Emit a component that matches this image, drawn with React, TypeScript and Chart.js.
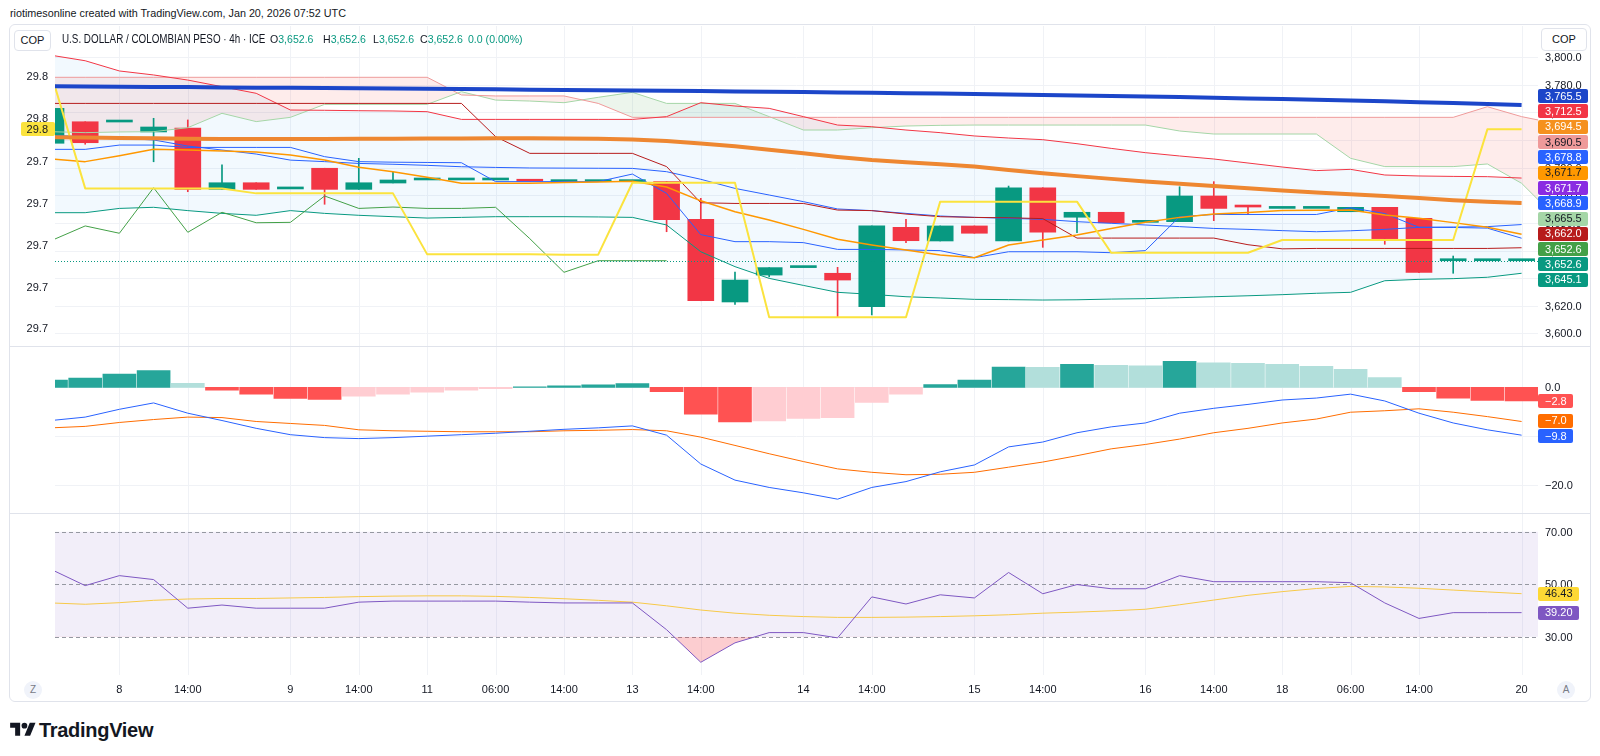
import React, { useEffect, useRef } from "react";
import { Chart, registerables } from "chart.js";

Chart.register(...registerables);

// ---------------- time axis ----------------
const timeLabelIndex = [2, 4, 7, 9, 11, 13, 15, 17, 19, 22, 24, 27, 29, 32, 34, 36, 38, 40, 43];
const timeLabelText = ["8", "14:00", "9", "14:00", "11", "06:00", "14:00", "13", "14:00", "14", "14:00", "15", "14:00", "16", "14:00", "18", "06:00", "14:00", "20"];

// ---------------- candles (USD/COP 4h) ----------------
const opens = [3737.7, 3753.3, 3753.1, 3745.9, 3748.8, 3704.3, 3709.1, 3704.6, 3719.6, 3704.3,
  3708.9, 3711.1, 3711.1, 3711.1, 3710.6, 3709.9, 3709.9, 3709.9, 3709.9, 3682.6,
  3622.7, 3642.2, 3647.6, 3643.5, 3619.3, 3676.8, 3666.9, 3677.8, 3666.9, 3705.5,
  3684.1, 3687.7, 3680.4, 3680.9, 3699.5, 3691.7, 3690.5, 3690.5, 3688.1, 3691.3,
  3683.3, 3652.6, 3652.6, 3652.6];
const highs = [3764.0, 3753.3, 3753.1, 3755.8, 3754.6, 3722.0, 3709.1, 3704.6, 3719.6, 3726.8,
  3716.7, 3711.1, 3711.1, 3711.1, 3710.6, 3709.9, 3709.9, 3709.9, 3709.9, 3697.8,
  3644.4, 3647.6, 3647.6, 3647.8, 3677.8, 3682.6, 3677.8, 3677.8, 3706.7, 3705.5,
  3687.7, 3687.7, 3680.4, 3706.2, 3709.9, 3691.7, 3690.5, 3690.5, 3691.3, 3691.3,
  3683.3, 3656.0, 3652.6, 3652.6];
const lows = [3737.7, 3737.0, 3753.1, 3724.3, 3702.6, 3704.3, 3704.3, 3704.6, 3693.5, 3704.3,
  3708.9, 3711.1, 3711.1, 3711.1, 3710.2, 3709.9, 3709.9, 3709.9, 3673.6, 3623.6,
  3621.0, 3640.9, 3647.6, 3611.6, 3613.3, 3665.7, 3666.9, 3672.5, 3666.9, 3662.3,
  3672.9, 3680.1, 3680.4, 3680.9, 3681.6, 3686.2, 3690.5, 3690.5, 3688.1, 3664.5,
  3644.0, 3643.5, 3652.6, 3652.6];
const closes = [3763.0, 3738.1, 3753.1, 3749.5, 3704.3, 3709.1, 3704.3, 3704.6, 3704.3, 3709.1,
  3711.1, 3711.1, 3711.1, 3711.1, 3710.2, 3709.9, 3709.9, 3709.9, 3682.3, 3623.6,
  3638.6, 3647.6, 3647.6, 3638.6, 3677.8, 3667.1, 3677.8, 3672.5, 3705.5, 3673.2,
  3687.7, 3680.1, 3680.4, 3699.5, 3690.5, 3691.5, 3690.5, 3690.5, 3691.3, 3668.6,
  3644.2, 3652.6, 3652.6, 3652.6];

// ---------------- overlays on price pane ----------------
const maLong = [3779.0, 3778.9, 3778.7, 3778.5, 3778.4, 3778.2, 3778.0, 3777.9, 3777.7, 3777.5,
  3777.4, 3777.2, 3777.0, 3776.8, 3776.5, 3776.3, 3776.1, 3775.9, 3775.7, 3775.5,
  3775.3, 3775.0, 3774.8, 3774.5, 3774.3, 3774.0, 3773.7, 3773.4, 3773.1, 3772.7,
  3772.4, 3772.0, 3771.6, 3771.2, 3770.7, 3770.2, 3769.7, 3769.2, 3768.7, 3768.1,
  3767.5, 3766.9, 3766.2, 3765.5];
const maMid = [3742.0, 3741.8, 3741.5, 3741.3, 3741.0, 3740.8, 3740.8, 3740.8, 3740.8, 3740.9,
  3741.0, 3741.1, 3741.2, 3741.3, 3741.3, 3741.2, 3741.0, 3740.5, 3739.4, 3737.6,
  3735.5, 3733.0, 3730.5, 3727.8, 3725.6, 3724.0, 3722.5, 3720.8, 3718.4, 3716.0,
  3713.9, 3711.9, 3710.0, 3708.3, 3706.7, 3705.1, 3703.5, 3702.0, 3700.8, 3699.5,
  3698.0, 3696.5, 3695.3, 3694.5];
const maFast = [3726.3, 3724.4, 3728.7, 3733.3, 3732.8, 3732.1, 3731.4, 3729.2, 3725.6, 3720.3,
  3717.1, 3713.1, 3708.7, 3708.7, 3708.7, 3709.2, 3709.6, 3710.2, 3706.0, 3696.0,
  3688.1, 3682.1, 3675.3, 3668.1, 3664.0, 3660.4, 3656.7, 3654.8, 3664.0, 3667.6,
  3671.2, 3676.0, 3680.4, 3684.0, 3686.4, 3687.6, 3688.9, 3689.2, 3689.4, 3685.7,
  3683.3, 3680.2, 3676.8, 3671.7];
const bbUpper = [3801.5, 3797.5, 3790.1, 3787.2, 3783.5, 3778.7, 3773.9, 3761.8, 3761.6, 3761.3,
  3761.1, 3760.6, 3755.0, 3755.0, 3755.0, 3755.0, 3755.0, 3755.0, 3757.0, 3767.1,
  3764.7, 3763.0, 3757.0, 3750.9, 3749.7, 3747.3, 3745.4, 3743.0, 3741.5, 3740.3,
  3737.4, 3734.0, 3730.9, 3728.5, 3726.3, 3723.4, 3720.5, 3717.9, 3718.8, 3714.7,
  3714.0, 3713.7, 3713.5, 3712.5];
const bbLower = [3687.4, 3687.4, 3690.5, 3691.3, 3688.9, 3686.9, 3685.5, 3688.9, 3686.9, 3685.5,
  3684.5, 3683.5, 3684.0, 3684.5, 3684.5, 3684.5, 3684.3, 3684.0, 3678.5, 3659.1,
  3648.3, 3639.8, 3634.7, 3629.7, 3628.2, 3626.5, 3625.6, 3624.6, 3624.4, 3624.1,
  3624.3, 3624.8, 3625.1, 3625.8, 3626.5, 3627.2, 3628.0, 3629.0, 3629.7, 3638.1,
  3639.1, 3639.6, 3640.6, 3643.5];
const bbBasis = [3743.4, 3742.5, 3741.3, 3740.1, 3735.7, 3732.8, 3729.9, 3725.5, 3724.4, 3723.1,
  3722.5, 3721.7, 3720.7, 3720.2, 3719.8, 3719.7, 3719.6, 3719.5, 3717.1, 3711.6,
  3705.0, 3700.2, 3695.4, 3690.1, 3688.9, 3686.9, 3685.0, 3684.0, 3683.3, 3682.6,
  3680.9, 3679.7, 3678.5, 3677.3, 3676.0, 3675.3, 3674.4, 3673.6, 3674.3, 3675.3,
  3676.8, 3677.0, 3677.3, 3678.8];
const tenkan = [3733.3, 3733.3, 3736.4, 3736.4, 3734.7, 3734.7, 3734.7, 3734.7, 3728.0, 3724.4,
  3724.0, 3723.8, 3723.6, 3709.9, 3709.9, 3709.9, 3709.9, 3715.4, 3701.4, 3671.5,
  3666.4, 3666.4, 3665.7, 3660.8, 3660.8, 3660.4, 3659.9, 3654.8, 3659.1, 3659.1,
  3659.1, 3658.4, 3659.9, 3684.5, 3686.1, 3686.1, 3686.1, 3686.1, 3691.0, 3686.8,
  3676.8, 3676.7, 3676.2, 3668.9];
const kijun = [3766.6, 3766.6, 3766.6, 3766.6, 3766.6, 3766.6, 3766.6, 3766.6, 3766.6, 3766.6,
  3766.6, 3766.6, 3766.6, 3742.5, 3730.4, 3730.4, 3730.4, 3730.4, 3720.8, 3694.6,
  3694.1, 3694.1, 3694.1, 3689.3, 3688.9, 3686.4, 3684.5, 3684.0, 3683.7, 3683.1,
  3669.0, 3669.0, 3669.0, 3669.0, 3669.0, 3664.2, 3661.2, 3661.5, 3661.5, 3661.5,
  3661.5, 3661.5, 3661.5, 3662.0];
const spanA = [3746.1, 3745.4, 3745.9, 3746.1, 3749.0, 3759.4, 3753.4, 3756.5, 3765.9, 3765.9,
  3765.9, 3765.9, 3775.1, 3769.0, 3768.3, 3767.1, 3771.0, 3774.6, 3766.6, 3766.6,
  3766.6, 3757.0, 3747.3, 3747.3, 3749.0, 3750.2, 3750.7, 3750.9, 3750.9, 3750.9,
  3750.9, 3750.9, 3750.9, 3746.6, 3744.4, 3744.4, 3744.4, 3744.4, 3726.8, 3720.8,
  3720.8, 3720.8, 3722.7, 3708.7, 3684.0];
const spanB = [3785.5, 3785.5, 3785.5, 3785.5, 3785.5, 3785.5, 3785.5, 3785.5, 3785.5, 3785.5,
  3785.5, 3785.5, 3772.7, 3772.0, 3772.0, 3772.0, 3766.6, 3756.5, 3756.5, 3756.5,
  3756.5, 3756.5, 3756.5, 3756.5, 3756.5, 3756.5, 3756.5, 3756.5, 3756.5, 3756.5,
  3756.5, 3756.5, 3756.5, 3756.5, 3756.5, 3756.5, 3756.5, 3756.5, 3756.5, 3756.5,
  3756.5, 3756.5, 3764.2, 3757.0, 3752.0];
const LAGGING_SHIFT = 25;
const yellowLine = [3788.4, 3705.0, 3705.0, 3705.0, 3705.0, 3705.0, 3701.4, 3701.4, 3701.4, 3701.4,
  3701.4, 3657.2, 3657.2, 3657.2, 3657.2, 3657.0, 3657.0, 3709.1, 3709.1, 3709.1,
  3709.1, 3611.6, 3611.6, 3611.6, 3611.6, 3611.6, 3695.4, 3695.4, 3695.4, 3695.4,
  3695.4, 3658.4, 3658.4, 3658.4, 3658.4, 3658.4, 3667.6, 3667.6, 3667.6, 3667.6,
  3667.6, 3667.6, 3747.8, 3747.8];

// ---------------- MACD ----------------
const macdLine = [-6.8, -6.1, -4.5, -3.2, -5.3, -6.8, -8.4, -9.7, -10.3, -10.5,
  -10.3, -10.0, -9.7, -9.4, -9.0, -8.6, -8.3, -7.9, -9.8, -15.7,
  -19.0, -20.5, -21.6, -22.9, -20.5, -19.3, -17.3, -15.9, -12.2, -11.2,
  -9.3, -8.1, -7.3, -5.3, -4.3, -3.5, -2.6, -2.2, -1.4, -2.8,
  -5.3, -7.3, -8.7, -9.8];
const signalLine = [-8.3, -8.0, -7.2, -6.6, -6.1, -6.2, -7.0, -7.4, -7.8, -8.7,
  -8.9, -9.0, -9.1, -9.1, -9.1, -8.9, -8.8, -8.65, -8.9, -10.2,
  -11.9, -13.6, -15.2, -16.7, -17.4, -17.9, -17.8, -17.4, -16.35, -15.3,
  -14.0, -12.6, -11.7, -10.6, -9.3, -8.4, -7.3, -6.5, -5.1, -4.8,
  -4.4, -5.1, -6.0, -7.0];
const histogram = [1.5, 1.9, 2.7, 3.4, 0.8, -0.6, -1.4, -2.3, -2.5, -1.8,
  -1.4, -1.0, -0.6, -0.3, 0.1, 0.3, 0.5, 0.75, -0.9, -5.5,
  -7.1, -6.9, -6.35, -6.2, -3.1, -1.4, 0.55, 1.5, 4.15, 4.1,
  4.7, 4.5, 4.4, 5.3, 5.0, 4.9, 4.7, 4.3, 3.7, 2.0,
  -0.9, -2.2, -2.7, -2.8];

// ---------------- RSI ----------------
const rsiLine = [55.7, 49.5, 53.3, 51.8, 40.9, 42.1, 40.9, 40.9, 40.9, 43.2,
  43.6, 43.6, 43.6, 43.6, 43.2, 42.9, 42.9, 42.9, 32.7, 20.3,
  27.7, 31.6, 31.6, 29.6, 45.2, 42.5, 46.0, 44.8, 54.5, 46.4,
  49.9, 48.3, 48.3, 53.3, 51.0, 51.0, 51.0, 51.0, 50.6, 42.9,
  37.0, 39.2, 39.2, 39.2];
const rsiMa = [42.9, 42.4, 43.0, 43.9, 44.4, 44.6, 44.6, 44.8, 45.0, 45.3,
  45.5, 45.6, 45.6, 45.4, 45.0, 44.5, 43.9, 43.2, 41.8, 40.2,
  39.0, 38.2, 37.7, 37.4, 37.4, 37.5, 37.7, 38.0, 38.4, 39.0,
  39.4, 39.9, 40.5, 42.2, 44.0, 45.8, 47.2, 48.4, 49.2, 49.0,
  48.5, 47.8, 47.1, 46.43];

// ---------------- axis ticks & labels ----------------
const priceTicks = [3800, 3780, 3760, 3740, 3720, 3700, 3680, 3660, 3640, 3620, 3600];
const leftTickValues = [3785.7, 3755.3, 3724.1, 3693.7, 3663.3, 3632.9, 3603.2];
const leftTickLabels = ["29.8", "29.8", "29.7", "29.7", "29.7", "29.7", "29.7"];
const leftBadgeText = "29.8";
const macdTicks = [0, -10, -20];
const rsiLevels = [70, 50, 30];

const mainBadgeValues = [3765.5, 3712.5, 3694.5, 3690.5, 3678.8, 3671.7, 3671.7, 3668.9, 3665.5, 3662.0, 3652.6, 3652.6, 3645.1];
const mainBadgeBg = ["#1c46c9", "#F23645", "#F5911E", "#EF9A9A", "#2962FF", "#FF9800", "#8A2BE2", "#2962FF", "#A5D6A7", "#B71C1C", "#43A047", "#089981", "#089981"];
const mainBadgeFg = ["#fff", "#fff", "#fff", "#131722", "#fff", "#131722", "#fff", "#fff", "#131722", "#fff", "#fff", "#fff", "#fff"];
const macdBadgeValues = [-2.8, -7.0, -9.8];
const macdBadgeBg = ["#FF5252", "#FF6D00", "#2962FF"];
const rsiBadgeValues = [46.43, 39.2];
const rsiBadgeBg = ["#FDD835", "#7E57C2"];
const rsiBadgeFg = ["#131722", "#fff"];

// ---------------- styling ----------------
const FONT_STACK = '"Liberation Sans", Arial, sans-serif';
const AXIS_FONT = `11px ${FONT_STACK}`;
const TEXT = "#131722";
const GRID = "#F0F2F6";
const UP = "#089981";
const DOWN = "#F23645";
const X_MIN = 0.117;
const X_MAX = 43.48;
const PAD_LEFT = 55;
const PAD_RIGHT = 62;
const AXIS_TEXT_X = 1545;
const BADGE_STEP = 15.3;

function fmt(v: number, d: number) {
  const s = Math.abs(v).toLocaleString("en-US", { minimumFractionDigits: d, maximumFractionDigits: d });
  return (v < 0 ? "\u2212" : "") + s;
}

function stackPositions(ideals: number[], step: number, contiguous: boolean): number[] {
  const n = ideals.length;
  const place = (s: number, e: number) => (ideals[s] + ideals[e]) / 2 - ((e - s) * step) / 2;
  if (contiguous) {
    const top = place(0, n - 1);
    return ideals.map((_, i) => top + i * step);
  }
  const groups: number[][] = ideals.map((_, i) => [i, i]);
  let changed = true;
  while (changed) {
    changed = false;
    for (let k = 0; k < groups.length - 1; k++) {
      const [s1, e1] = groups[k];
      const [s2, e2] = groups[k + 1];
      const bottom1 = place(s1, e1) + (e1 - s1) * step;
      if (bottom1 + step > place(s2, e2)) {
        groups.splice(k, 2, [s1, e2]);
        changed = true;
        break;
      }
    }
  }
  const out: number[] = [];
  for (const [s, e] of groups) {
    const top = place(s, e);
    for (let i = s; i <= e; i++) out[i] = top + (i - s) * step;
  }
  return out;
}

function drawBadge(ctx: any, textX: number, yc: number, text: string, bg: string, fg: string, align: "left" | "right" = "left") {
  ctx.font = AXIS_FONT;
  const tw = ctx.measureText(text).width;
  const h = 14;
  const left = align === "left" ? textX - 7 : textX - tw - 6;
  ctx.fillStyle = bg;
  ctx.beginPath();
  ctx.roundRect(Math.round(left), Math.round(yc - h / 2), Math.round(tw + 13), h, 2);
  ctx.fill();
  ctx.fillStyle = fg;
  ctx.textAlign = align;
  ctx.textBaseline = "middle";
  ctx.fillText(text, textX, yc + 0.5);
}

function drawGrid(chart: any, hTicks: number[]) {
  const { ctx, chartArea: a, scales } = chart;
  ctx.save();
  ctx.strokeStyle = GRID;
  ctx.lineWidth = 1;
  ctx.beginPath();
  for (const v of hTicks) {
    const py = Math.round(scales.y.getPixelForValue(v)) + 0.5;
    ctx.moveTo(a.left, py);
    ctx.lineTo(a.right, py);
  }
  for (const i of timeLabelIndex) {
    const px = Math.round(scales.x.getPixelForValue(i)) + 0.5;
    ctx.moveTo(px, a.top);
    ctx.lineTo(px, a.bottom);
  }
  ctx.stroke();
  ctx.restore();
}

const pts = (arr: number[]) => arr.map((v, i) => ({ x: i, y: v }));
const lineDs = (arr: number[], color: string, width: number, order: number, extra: any = {}) => ({
  type: "line",
  data: pts(arr),
  borderColor: color,
  borderWidth: width,
  pointRadius: 0,
  pointHoverRadius: 0,
  fill: false,
  tension: 0,
  borderJoinStyle: "round",
  order,
  ...extra,
});

const baseOptions = (yMin: number, yMax: number, bottomPad = 0) => ({
  animation: false,
  responsive: false,
  maintainAspectRatio: false,
  devicePixelRatio: 1,
  events: [],
  layout: { padding: { left: PAD_LEFT, right: PAD_RIGHT, top: 0, bottom: bottomPad } },
  plugins: { legend: { display: false }, tooltip: { enabled: false }, filler: { drawTime: "beforeDatasetsDraw" } },
  scales: {
    x: { type: "linear", min: X_MIN, max: X_MAX, display: false, offset: false },
    y: { type: "linear", min: yMin, max: yMax, display: false, beginAtZero: false },
  },
});

function mainConfig(): any {
  const idx = opens.map((_, i) => i);
  const bodyData = idx.map((i) => ({ x: i, y: [opens[i], closes[i]] }));
  const bodyColors = idx.map((i) => (closes[i] >= opens[i] ? UP : DOWN));
  const wickIdx = idx.filter((i) => highs[i] > lows[i]);
  const wickData = wickIdx.map((i) => ({ x: i, y: [lows[i], highs[i]] }));
  const wickColors = wickIdx.map((i) => (closes[i] >= opens[i] ? UP : DOWN));
  const lagging = closes.slice(LAGGING_SHIFT);
  const lastPrice = closes[closes.length - 1];

  return {
    type: "line",
    data: {
      datasets: [
        { type: "bar", data: wickData, backgroundColor: wickColors, barThickness: 1, grouped: false, borderWidth: 0, order: 61 },
        { type: "bar", data: bodyData, backgroundColor: bodyColors, barThickness: 26, minBarLength: 2, grouped: false, borderWidth: 0, order: 60 },
        lineDs(spanA, "#A5D6A7", 1, 50, { fill: { target: "+1", above: "rgba(67,160,71,0.1)", below: "rgba(244,67,54,0.1)" } }),
        lineDs(spanB, "#EF9A9A", 1, 49),
        lineDs(bbUpper, "#F23645", 1, 40, { fill: { target: "+1", above: "rgba(33,150,243,0.06)", below: "rgba(33,150,243,0.06)" } }),
        lineDs(bbLower, "#089981", 1, 39),
        lineDs(bbBasis, "#2962FF", 1, 38),
        lineDs(kijun, "#B71C1C", 1, 30),
        lineDs(tenkan, "#2962FF", 1, 29),
        lineDs(lagging, "#43A047", 1, 28),
        lineDs(maFast, "#FF9800", 1.5, 20),
        lineDs(yellowLine, "#FBE33E", 2, 15),
        lineDs(maMid, "#EE8731", 4, 10),
        lineDs(maLong, "#1c46c9", 4, 9),
      ],
    },
    options: baseOptions(3590.8, 3822.68),
    plugins: [
      {
        id: "mainDecor",
        beforeDraw(chart: any) {
          drawGrid(chart, priceTicks);
        },
        afterDraw(chart: any) {
          const { ctx, chartArea: a, scales } = chart;
          const y = scales.y;
          ctx.save();
          const py = Math.round(y.getPixelForValue(lastPrice)) + 0.5;
          ctx.strokeStyle = UP;
          ctx.lineWidth = 1;
          ctx.setLineDash([1, 2]);
          ctx.beginPath();
          ctx.moveTo(a.left, py);
          ctx.lineTo(AXIS_TEXT_X - 7, py);
          ctx.stroke();
          ctx.setLineDash([]);

          ctx.font = AXIS_FONT;
          ctx.fillStyle = TEXT;
          ctx.textAlign = "left";
          ctx.textBaseline = "middle";
          for (const v of priceTicks) ctx.fillText(fmt(v, 1), AXIS_TEXT_X, y.getPixelForValue(v) + 1);

          const ideals = mainBadgeValues.map((v) => y.getPixelForValue(v));
          const pos = stackPositions(ideals, BADGE_STEP, true);
          pos.forEach((p, k) => drawBadge(ctx, AXIS_TEXT_X, p, fmt(mainBadgeValues[k], 1), mainBadgeBg[k], mainBadgeFg[k]));

          ctx.font = AXIS_FONT;
          ctx.fillStyle = TEXT;
          ctx.textAlign = "right";
          leftTickValues.forEach((v, k) => ctx.fillText(leftTickLabels[k], 48, y.getPixelForValue(v)));
          drawBadge(ctx, 48, y.getPixelForValue(yellowLine[yellowLine.length - 1]), leftBadgeText, "#FBE33E", TEXT, "right");
          ctx.restore();
        },
      },
    ],
  };
}

function macdConfig(): any {
  const histColors = histogram.map((v, i) => {
    const prev = i > 0 ? histogram[i - 1] : -Infinity;
    if (v >= 0) return v >= prev ? "#26A69A" : "#B2DFDB";
    return v < prev ? "#FF5252" : "#FFCDD2";
  });
  return {
    type: "line",
    data: {
      datasets: [
        { type: "bar", data: pts(histogram), backgroundColor: histColors, barThickness: 33, grouped: false, borderWidth: 0, order: 5 },
        lineDs(signalLine, "#FF6D00", 1, 2),
        lineDs(macdLine, "#2962FF", 1, 1),
      ],
    },
    options: baseOptions(-25.73, 8.25),
    plugins: [
      {
        id: "macdDecor",
        beforeDraw(chart: any) {
          drawGrid(chart, macdTicks);
        },
        afterDraw(chart: any) {
          const { ctx, scales } = chart;
          const y = scales.y;
          ctx.save();
          ctx.font = AXIS_FONT;
          ctx.fillStyle = TEXT;
          ctx.textAlign = "left";
          ctx.textBaseline = "middle";
          for (const v of macdTicks) ctx.fillText(fmt(v, 1), AXIS_TEXT_X, y.getPixelForValue(v) + 1);
          const ideals = macdBadgeValues.map((v) => y.getPixelForValue(v));
          const pos = stackPositions(ideals, BADGE_STEP, false);
          pos.forEach((p, k) => drawBadge(ctx, AXIS_TEXT_X, p, fmt(macdBadgeValues[k], 1), macdBadgeBg[k], "#fff"));
          ctx.restore();
        },
      },
    ],
  };
}

function rsiConfig(): any {
  return {
    type: "line",
    data: {
      datasets: [
        lineDs(rsiMa, "#F7C948", 1, 2),
        lineDs(rsiLine, "#7E57C2", 1, 1, { fill: { target: { value: 30 }, above: "rgba(0,0,0,0)", below: "rgba(242,54,69,0.25)" } }),
      ],
    },
    options: baseOptions(15.45, 76.78, 39),
    plugins: [
      {
        id: "rsiDecor",
        beforeDraw(chart: any) {
          drawGrid(chart, []);
          const { ctx, chartArea: a, scales } = chart;
          const y = scales.y;
          ctx.save();
          const yTop = y.getPixelForValue(rsiLevels[0]);
          const yBot = y.getPixelForValue(rsiLevels[rsiLevels.length - 1]);
          ctx.fillStyle = "rgba(126,87,194,0.1)";
          ctx.fillRect(a.left, yTop, a.right - a.left, yBot - yTop);
          ctx.strokeStyle = "#9598A1";
          ctx.lineWidth = 1;
          ctx.setLineDash([4, 3]);
          ctx.beginPath();
          for (const v of rsiLevels) {
            const py = Math.round(y.getPixelForValue(v)) + 0.5;
            ctx.moveTo(a.left, py);
            ctx.lineTo(a.right, py);
          }
          ctx.stroke();
          ctx.restore();
        },
        afterDraw(chart: any) {
          const { ctx, chartArea: a, scales } = chart;
          const y = scales.y;
          const x = scales.x;
          ctx.save();
          ctx.font = AXIS_FONT;
          ctx.fillStyle = TEXT;
          ctx.textAlign = "left";
          ctx.textBaseline = "middle";
          for (const v of rsiLevels) ctx.fillText(fmt(v, 2), AXIS_TEXT_X, y.getPixelForValue(v) + 1);
          const ideals = rsiBadgeValues.map((v) => y.getPixelForValue(v));
          const pos = stackPositions(ideals, BADGE_STEP, false);
          pos.forEach((p, k) => drawBadge(ctx, AXIS_TEXT_X, p, fmt(rsiBadgeValues[k], 2), rsiBadgeBg[k], rsiBadgeFg[k]));
          // time axis
          ctx.font = AXIS_FONT;
          ctx.fillStyle = TEXT;
          ctx.textAlign = "center";
          timeLabelIndex.forEach((i, k) => ctx.fillText(timeLabelText[k], x.getPixelForValue(i), a.bottom + 15));
          ctx.restore();
        },
      },
    ],
  };
}

const abs = (left: number, top: number, extra: any = {}) => ({ position: "absolute" as const, left, top, ...extra });

export default function App() {
  const mainRef = useRef<HTMLCanvasElement>(null);
  const macdRef = useRef<HTMLCanvasElement>(null);
  const rsiRef = useRef<HTMLCanvasElement>(null);

  useEffect(() => {
    const charts = [
      new Chart(mainRef.current as HTMLCanvasElement, mainConfig()),
      new Chart(macdRef.current as HTMLCanvasElement, macdConfig()),
      new Chart(rsiRef.current as HTMLCanvasElement, rsiConfig()),
    ];
    return () => charts.forEach((c) => c.destroy());
  }, []);

  const val = { color: UP };
  const ohlcStyle = { fontSize: 11, lineHeight: "14px", whiteSpace: "nowrap" as const, transform: "scaleX(0.96)", transformOrigin: "left center" };
  return (
    <div style={{ position: "fixed", left: 0, top: 0, width: 1600, height: 756, background: "#fff", overflow: "hidden", fontFamily: FONT_STACK, color: TEXT }}>
      <div style={abs(10, 6, { fontSize: 11, lineHeight: "14px", whiteSpace: "nowrap", transform: "scaleX(0.98)", transformOrigin: "left center" })}>
        riotimesonline created with TradingView.com, Jan 20, 2026 07:52 UTC
      </div>

      <canvas ref={mainRef} width={1600} height={320} style={abs(0, 26)} />
      <canvas ref={macdRef} width={1600} height={166} style={abs(0, 347)} />
      <canvas ref={rsiRef} width={1600} height={200} style={abs(0, 514)} />

      {/* frame & separators */}
      <div style={abs(9, 24, { width: 1582, height: 678, border: "1px solid #E0E3EB", borderRadius: 6, boxSizing: "border-box", pointerEvents: "none" })} />
      <div style={abs(10, 346, { width: 1580, height: 1, background: "#E0E3EB" })} />
      <div style={abs(10, 513, { width: 1580, height: 1, background: "#E0E3EB" })} />

      {/* legend row */}
      <div style={abs(14, 30, { width: 37, height: 21, border: "1px solid #E0E3EB", borderRadius: 4, boxSizing: "border-box", background: "#fff", fontSize: 11, lineHeight: "19px", textAlign: "center" })}>COP</div>
      <div style={abs(1541, 28, { width: 46, height: 23, border: "1px solid #E0E3EB", borderRadius: 4, boxSizing: "border-box", background: "#fff", fontSize: 11, lineHeight: "21px", textAlign: "center" })}>COP</div>
      <div style={abs(62, 32, { fontSize: 12, lineHeight: "14px", whiteSpace: "nowrap", transform: "scaleX(0.82)", transformOrigin: "left center" })}>
        U.S. DOLLAR / COLOMBIAN PESO · 4h · ICE
      </div>
      <div style={abs(270, 32, ohlcStyle)}>O<span style={val}>3,652.6</span></div>
      <div style={abs(323, 32, ohlcStyle)}>H<span style={val}>3,652.6</span></div>
      <div style={abs(373, 32, ohlcStyle)}>L<span style={val}>3,652.6</span></div>
      <div style={abs(420, 32, ohlcStyle)}>C<span style={val}>3,652.6</span></div>
      <div style={abs(468, 32, { ...ohlcStyle, color: UP })}>0.0 (0.00%)</div>

      {/* time axis buttons */}
      <div style={abs(24, 681, { width: 18, height: 18, borderRadius: 9, background: "#F0F3FA", color: "#787B86", fontSize: 10, lineHeight: "18px", textAlign: "center" })}>Z</div>
      <div style={abs(1557, 681, { width: 18, height: 18, borderRadius: 9, background: "#F0F3FA", color: "#787B86", fontSize: 10, lineHeight: "18px", textAlign: "center" })}>A</div>

      {/* logo */}
      <svg width={26} height={20} viewBox="0 0 36 28" style={abs(10, 720)}>
        <path d="M14 22H7V11H0V4h14v18z" fill="#131722" />
        <circle cx={20} cy={8} r={4} fill="#131722" />
        <path d="M28 22h-8l7.5-18h8L28 22z" fill="#131722" />
      </svg>
      <div style={abs(39, 718, { fontSize: 20, fontWeight: 700, lineHeight: "24px", letterSpacing: -0.3, whiteSpace: "nowrap" })}>TradingView</div>
    </div>
  );
}
